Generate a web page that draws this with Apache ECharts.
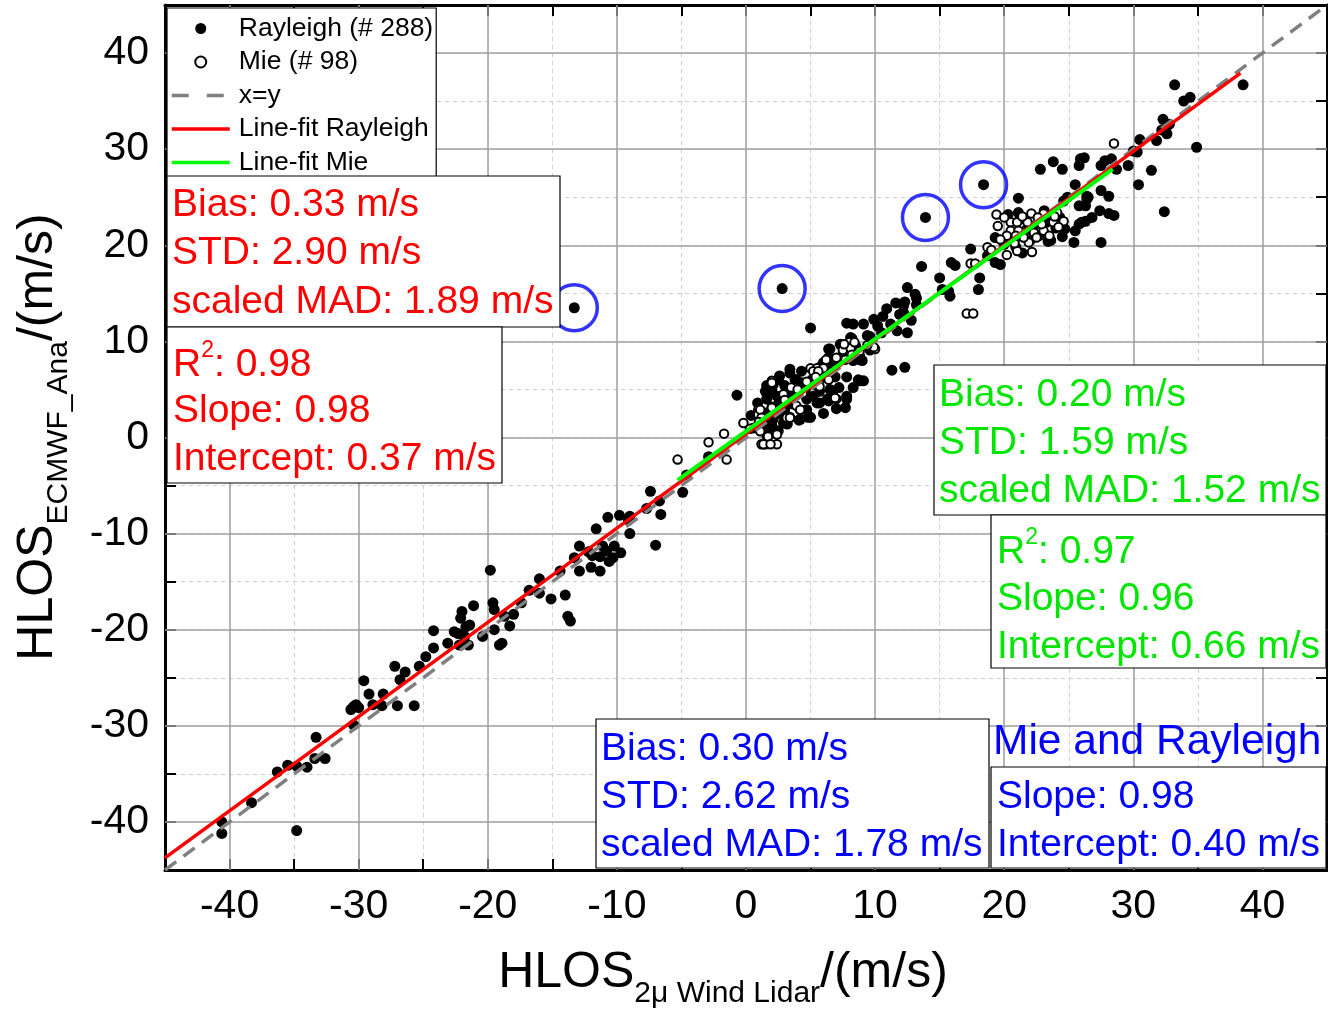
<!DOCTYPE html>
<html>
<head>
<meta charset="utf-8">
<title>HLOS comparison</title>
<script src="https://cdn.jsdelivr.net/npm/echarts@6/dist/echarts.min.js"></script>
<style>
  html, body { margin: 0; padding: 0; background: #ffffff; }
  #chart { width: 1328px; height: 1011px; }
</style>
</head>
<body>
<div id="chart"></div>
<script>
// ---- data ---------------------------------------------------------------
// Rayleigh winds: [2µ lidar HLOS, ECMWF analysis HLOS] in m/s
const rayleighPoints = [
  // strong negative winds
  [-40.6,-40.0],[-40.6,-41.2],[-34.8,-40.9],[-38.3,-38.0],[-36.3,-34.8],[-35.5,-34.1],[-34.8,-34.2],[-34.0,-34.3],[-33.3,-31.2],[-33.4,-33.4],[-32.6,-33.4],
  [-30.4,-28.0],[-30.2,-27.8],[-30.6,-28.3],[-30.4,-29.9],[-30.0,-28.1],[-29.6,-25.3],[-29.2,-26.7],[-28.9,-27.8],[-28.1,-26.7],[-28.2,-27.9],[-27.0,-27.9],[-25.7,-27.9],
  [-27.2,-23.8],[-26.8,-25.2],[-26.4,-24.4],[-25.3,-23.8],[-24.8,-22.8],[-24.2,-21.9],[-24.2,-20.1],[-23.1,-21.4],[-22.6,-20.2],
  [-22.0,-18.1],[-22.1,-18.8],[-21.7,-19.7],[-22.2,-21.6],[-21.8,-20.7],[-21.5,-21.6],[-21.1,-17.5],[-21.4,-19.5],[-20.4,-20.7],[-22.3,-20.4],
  [-19.8,-13.8],[-19.6,-17.2],[-19.5,-17.9],[-19.5,-20.0],[-19.1,-21.6],[-18.9,-21.4],[-18.7,-18.6],[-18.3,-19.6],[-18.0,-18.4],[-17.4,-17.2],
  [-16.8,-15.9],[-16.0,-14.7],[-16.0,-16.2],[-15.1,-16.8],[-14.4,-13.9],[-14.0,-16.4],[-13.8,-18.6],[-13.6,-19.1],
  [-13.3,-12.5],[-12.9,-11.3],[-12.9,-13.9],[-12.0,-13.5],[-11.3,-13.9],[-11.6,-9.5],[-11.3,-12.4],[-11.1,-11.3],[-10.8,-11.8],[-10.7,-8.3],[-10.3,-12.5],[-10.2,-11.3],[-9.8,-8.1],[-9.7,-12.0],[-9.0,-10.0],[-9.0,-8.2],[-9.1,-8.6],[-11.9,-12.3],[-10.6,-12.9],[-12.2,-11.9],
  [-7.4,-5.6],[-6.7,-6.6],[-6.6,-8.0],[-7.0,-11.2],[-7.7,-7.4],[-4.9,-5.7],[-4.6,-3.9],[-2.9,-2.0],[-0.7,4.4],
  // weak winds
  [2.0,5.0],[2.6,4.0],[3.4,4.3],[3.4,7.1],[4.3,6.9],[2.9,1.5],[4.1,1.8],[5.0,2.1],[6.5,9.2],[7.8,11.9],
  [8.3,11.8],[8.2,10.3],[9.1,11.8],[9.9,12.3],[9.6,10.5],[9.0,8.0],[8.8,5.9],[9.1,5.9],[7.8,6.3],[7.8,4.3],
  [7.7,3.1],[7.2,5.2],[6.3,4.0],[5.7,3.6],[11.3,7.0],[12.3,7.3],[10.9,13.4],[11.6,14.0],[12.3,14.1],[13.2,14.5],
  [11.2,11.8],[11.7,11.1],[12.5,10.9],[10.5,10.9],[5.0,11.4],[2.5,6.0],[2.4,3.3],[2.8,2.4],[2.1,1.9],[3.2,1.4],
  [1.6,5.4],[3.8,6.0],[4.3,5.7],[4.6,5.0],[4.7,4.0],[5.5,3.6],[5.2,5.5],[6.0,7.8],[6.4,8.3],[6.8,7.4],
  [6.3,6.7],[8.3,8.0],[8.8,8.5],[8.7,6.0],[9.4,10.6],[4.2,2.9],[4.8,2.1],[3.4,2.1],[1.6,4.0],[2.0,1.2],
  [2.5,0.7],[1.1,1.2],[1.4,1.9],[1.7,2.6],[2.6,6.4],[2.1,5.5],[1.5,4.8],[1.7,4.3],[2.4,4.3],[3.4,6.7],
  [3.9,6.0],[5.1,6.0],[5.7,7.3],[6.1,7.6],[6.4,9.2],[7.3,9.7],[8.1,10.4],[8.5,9.5],[8.8,8.1],[5.7,4.8],
  [6.5,5.0],[5.2,4.3],[6.4,3.8],[7.8,4.0],[7.0,3.0],[4.7,2.9],[4.2,1.9],[2.9,3.3],[2.4,2.6],[1.6,0.8],
  [0.4,2.3],[0.9,3.6],[0.6,1.0],[3.0,5.4],[3.6,3.5],[5.9,6.2],[6.9,6.3],[7.5,8.6],[9.6,9.1],[10.2,11.6],
  [10.6,12.6],[11.9,12.8],[12.8,12.2],[3.0,2.9],[6.0,2.5],[6.7,4.5],[8.3,5.2],
  // strong positive winds
  [33.2,36.7],[38.5,36.7],[33.9,35.0],[34.4,35.4],[32.2,32.0],[32.5,32.1],[32.5,31.9],[32.3,33.1],[32.8,32.6],[32.6,31.6],
  [34.9,30.2],[31.8,30.9],[30.5,31.0],[30.0,29.8],[30.3,29.7],[29.6,28.3],[31.4,27.8],[30.4,26.3],[32.4,23.5],
  [27.5,20.3],[25.4,20.3],[24.5,20.9],[23.4,20.4],[27.4,23.6],[28.1,23.3],[28.5,23.1],[25.8,22.2],[26.3,22.5],[26.8,22.9],
  [25.8,24.1],[26.4,25.1],[26.4,24.8],[24.9,25.0],[24.6,24.6],[25.5,26.3],[27.5,25.7],[28.1,25.1],[26.5,25.0],[26.3,24.1],
  [27.8,28.8],[27.5,28.3],[28.3,29.0],[28.7,27.9],[25.9,29.0],[26.2,29.1],[25.8,28.3],[23.8,28.7],[24.5,27.9],[22.8,27.9],
  [21.1,24.9],[20.3,23.2],[21.1,23.4],[21.2,22.7],[19.3,20.8],[20.0,20.1],[20.9,19.8],[21.4,19.2],[22.7,21.0],[23.3,22.4],[22.8,22.9],[23.1,23.6],
  [17.4,19.6],[18.7,18.9],[19.3,18.2],[19.7,18.0],[18.1,16.6],[18.0,15.4],[15.9,18.2],[16.2,17.9],[15.0,16.6],[13.6,17.8],
  [15.2,15.4],[15.7,15.2],[15.8,14.7],[12.5,15.6],[13.1,14.9],[12.2,13.7],[12.2,13.0],[13.2,13.8],
  [25.5,21.5],[26.0,22.4],[24.7,21.7],[24.0,21.8],[24.3,22.9],[22.3,22.0],[21.7,21.6],[20.8,20.6],[22.0,20.5],[23.6,20.5]
];

// Rayleigh winds flagged as suspicious (circled)
const flaggedPoints = [[-13.3,13.5],[2.8,15.5],[13.9,22.9],[18.4,26.3]];

// Mie winds: [2µ lidar HLOS, ECMWF analysis HLOS] in m/s
const miePoints = [
  [-5.3,-2.3],[-2.9,-0.5],[-1.7,0.4],[-1.5,-2.3],[1.2,-0.7],[1.5,-0.7],[2.4,-0.7],[1.6,0.2],[2.3,0.4],[1.7,0.1],
  [2.4,0.3],[1.35,-0.7],[1.9,-0.7],[1.1,0.65],[0.95,2.9],[0.95,2.4],[2.0,3.2],[2.0,5.9],[3.7,5.2],[3.15,2.05],
  [3.9,3.3],[5.0,7.2],[5.5,7.2],[6.0,7.2],[5.7,5.3],[7.1,8.2],[7.5,9.1],[8.0,9.9],[8.1,9.3],[7.0,4.0],
  [10.0,9.2],[2.0,5.7],[1.1,2.9],[1.2,2.05],[2.0,3.1],[3.5,5.2],[5.2,6.9],[5.6,6.9],[4.2,2.9],[3.4,2.05],
  [7.0,8.3],[7.7,8.1],[8.2,8.6],[9.9,9.4],[6.9,4.1],[7.6,9.7],[8.4,9.9],[4.4,4.6],[6.4,6.0],[9.4,9.6],
  [2.9,4.5],[4.0,5.0],[0.3,0.9],[-0.2,1.5],[3.0,3.9],[6.2,8.1],[8.8,9.0],[1.0,1.6],[5.4,6.3],[4.7,5.8],
  [19.4,23.2],[20.5,22.4],[21.0,22.4],[21.8,22.4],[22.1,23.3],[23.05,23.3],[23.8,22.4],[24.6,22.5],[20.5,21.5],[21.1,21.5],
  [20.2,21.0],[22.3,21.3],[23.05,21.5],[19.7,20.6],[21.0,19.4],[21.9,20.3],[22.15,19.3],[20.2,19.0],[17.4,18.1],[17.75,18.1],
  [17.1,12.9],[17.6,12.9],[28.5,30.6],[20.0,22.9],[22.6,22.9],[24.1,23.4],[22.5,20.8],[21.5,20.8],[20.8,20.2],[23.5,21.0],
  [24.2,21.9],[18.7,19.8],[19.5,22.0],[22.9,22.2],[21.4,23.0],[20.9,21.0],[23.9,23.0],[19.0,19.5]
];

// axis range and labelled ticks (m/s)
const axisRange = [-45, 45];
const majorTicks = [-40, -30, -20, -10, 0, 10, 20, 30, 40];

// linear fits: slope, intercept and the x-span each fit covers
const fitRayleigh = { slope: 0.98, intercept: 0.37, span: [-45, 38.3] };
const fitMie      = { slope: 0.96, intercept: 0.66, span: [-5.3, 28.4] };
const fitAll      = { slope: 0.98, intercept: 0.40 };

// error statistics
const statsRayleigh = ['Bias: 0.33 m/s', 'STD: 2.90 m/s', 'scaled MAD: 1.89 m/s'];
const statsMie      = ['Bias: 0.20 m/s', 'STD: 1.59 m/s', 'scaled MAD: 1.52 m/s'];
const statsAll      = ['Bias: 0.30 m/s', 'STD: 2.62 m/s', 'scaled MAD: 1.78 m/s'];
const r2Rayleigh = '0.98';
const r2Mie = '0.97';

// ---- drawing ------------------------------------------------------------
const FONT = '"Liberation Sans", Arial, Helvetica, sans-serif';
const RED = '#ff0000', GREEN = '#00e600', BLUE = '#0000ff';
const STAT_SIZE = 39;

const fitLine = f => f.span.map(x => [x, f.slope * x + f.intercept]);
const tickLabel = v => (v % 10 === 0 ? String(v) : '');

function valueAxis(position, withLabels) {
  return {
    type: 'value', position,
    min: axisRange[0], max: axisRange[1], interval: 5,
    axisLine: { show: true, onZero: false, lineStyle: { color: '#000', width: 3 } },
    axisTick: { show: true, inside: true, length: 11, lineStyle: { color: '#000', width: 2 } },
    axisLabel: withLabels
      ? { show: true, formatter: tickLabel, fontSize: 41, color: '#000', fontFamily: FONT, margin: 16 }
      : { show: false },
    splitLine: withLabels
      ? { show: true, lineStyle: { color: '#cfcfcf', width: 1, type: [4, 4] } }
      : { show: false },
    axisPointer: { show: false }
  };
}

function box(x, y, w, h) {
  return { type: 'rect', z: 40, silent: true,
    shape: { x, y, width: w, height: h },
    style: { fill: '#fff', stroke: '#000', lineWidth: 1.2 } };
}
function textLine(x, y, content, color, size, rich) {
  const style = { text: content, fill: color, fontSize: size, fontFamily: FONT,
    align: 'left', verticalAlign: 'middle', textAlign: 'left', textVerticalAlign: 'middle' };
  if (rich) style.rich = rich;
  return { type: 'text', z: 41, silent: true, x, y, style };
}
function r2Line(x, y, value, color) {
  const rich = {
    m: { fill: color, fontSize: STAT_SIZE, fontFamily: FONT, lineHeight: 46, verticalAlign: 'bottom' },
    s: { fill: color, fontSize: 23, fontFamily: FONT, lineHeight: 23, verticalAlign: 'top' }
  };
  return textLine(x, y, '{m|R}{s|2}{m|: ' + value + '}', color, STAT_SIZE, rich);
}
function statBlock(left, top, lines, color, lineH) {
  return lines.map((t, i) => textLine(left, top + lineH * i, t, color, STAT_SIZE));
}

// axis titles with subscripts
const titleRich = {
  m: { fill: '#000', fontSize: 50, fontFamily: FONT, lineHeight: 50, verticalAlign: 'top' },
  s: { fill: '#000', fontSize: 30, fontFamily: FONT, lineHeight: 30, verticalAlign: 'top', padding: [31, 0, 0, 0] }
};
const xTitle = { type: 'text', z: 41, silent: true, x: 723, y: 948,
  style: { text: '{m|HLOS}{s|2μ Wind Lidar}{m|/(m/s)}', rich: titleRich, fontFamily: FONT,
    align: 'center', verticalAlign: 'top', textAlign: 'center', textVerticalAlign: 'top' } };
const yTitle = { type: 'text', z: 41, silent: true, x: 13, y: 437, rotation: Math.PI / 2,
  style: { text: '{m|HLOS}{s|ECMWF_Ana}{m|/(m/s)}', rich: titleRich, fontFamily: FONT,
    align: 'center', verticalAlign: 'top', textAlign: 'center', textVerticalAlign: 'top' } };

const graphics = [
  // Rayleigh statistics
  box(167, 176, 393, 151),
  ...statBlock(172, 205, statsRayleigh, RED, 48.5),
  box(167, 327, 335, 156),
  r2Line(173, 362, r2Rayleigh, RED),
  textLine(173, 411, 'Slope: ' + fitRayleigh.slope.toFixed(2), RED, STAT_SIZE),
  textLine(173, 459, 'Intercept: ' + fitRayleigh.intercept.toFixed(2) + ' m/s', RED, STAT_SIZE),
  // Mie statistics
  box(934, 365, 392, 150),
  ...statBlock(939, 395, statsMie, GREEN, 48),
  box(991, 515, 335, 153),
  r2Line(997, 549, r2Mie, GREEN),
  textLine(997, 599, 'Slope: ' + fitMie.slope.toFixed(2), GREEN, STAT_SIZE),
  textLine(997, 647, 'Intercept: ' + fitMie.intercept.toFixed(2) + ' m/s', GREEN, STAT_SIZE),
  // combined statistics
  box(596, 719, 393, 149),
  ...statBlock(601, 749, statsAll, BLUE, 48),
  textLine(993, 742, 'Mie and Rayleigh', BLUE, 42.5),
  box(991, 767, 335, 101),
  textLine(997, 797, 'Slope: ' + fitAll.slope.toFixed(2), BLUE, STAT_SIZE),
  textLine(997, 845, 'Intercept: ' + fitAll.intercept.toFixed(2) + ' m/s', BLUE, STAT_SIZE),
  xTitle, yTitle
];

// line entries in the legend show only the stroke
const hideMarker = { opacity: 0 };

const chart = echarts.init(document.getElementById('chart'), null, { renderer: 'canvas' });
chart.setOption({
  animation: false,
  backgroundColor: '#ffffff',
  grid: { left: 165, right: 1, top: 5, bottom: 141, containLabel: false, outerBoundsMode: 'none' },
  xAxis: [valueAxis('bottom', true), valueAxis('top', false)],
  yAxis: [valueAxis('left', true), valueAxis('right', false)],
  legend: {
    orient: 'vertical', left: 167, top: 8, z: 30,
    backgroundColor: '#fff', borderColor: '#000', borderWidth: 1.2,
    padding: [7, 3, 4, 3], itemGap: 6.5, itemWidth: 58, itemHeight: 11,
    selectedMode: false,
    textStyle: { fontSize: 26.5, lineHeight: 26, color: '#000', fontFamily: FONT, padding: [0, 0, 0, 4] },
    data: [
      { name: 'Rayleigh (# 288)', icon: 'circle' },
      { name: 'Mie (# 98)', icon: 'circle' },
      { name: 'x=y', lineStyle: { type: [17, 18], width: 3.5, color: '#808080' }, itemStyle: hideMarker },
      { name: 'Line-fit Rayleigh', lineStyle: { width: 3.5, color: RED }, itemStyle: hideMarker },
      { name: 'Line-fit Mie', lineStyle: { width: 3.5, color: '#00ff00' }, itemStyle: hideMarker }
    ]
  },
  graphic: { elements: graphics },
  series: [
    { // solid grid at the labelled ticks
      type: 'line', data: [], silent: true, z: 1,
      markLine: {
        silent: true, symbol: 'none', z: 1, animation: false,
        label: { show: false },
        lineStyle: { color: '#a0a0a0', type: 'solid', width: 1.5 },
        emphasis: { disabled: true },
        data: majorTicks.map(v => ({ xAxis: v })).concat(majorTicks.map(v => ({ yAxis: v })))
      }
    },
    {
      name: 'Rayleigh (# 288)', type: 'scatter', z: 3,
      data: rayleighPoints.concat(flaggedPoints),
      symbol: 'circle', symbolSize: 11,
      itemStyle: { color: '#000', opacity: 1 },
      emphasis: { disabled: true }
    },
    {
      name: 'Mie (# 98)', type: 'scatter', z: 4,
      data: miePoints,
      symbol: 'circle', symbolSize: 8.5,
      itemStyle: { color: '#fff', borderColor: '#000', borderWidth: 2, opacity: 1 },
      emphasis: { disabled: true }
    },
    {
      name: 'x=y', type: 'line', z: 5,
      data: [[axisRange[0], axisRange[0]], [axisRange[1], axisRange[1]]],
      symbol: 'none', showSymbol: false,
      itemStyle: { color: '#808080' },
      lineStyle: { color: '#808080', width: 3.5, type: [14, 9] },
      emphasis: { disabled: true }
    },
    {
      name: 'Line-fit Rayleigh', type: 'line', z: 6,
      data: fitLine(fitRayleigh),
      symbol: 'none', showSymbol: false,
      itemStyle: { color: RED },
      lineStyle: { color: RED, width: 3.5 },
      emphasis: { disabled: true }
    },
    {
      name: 'Line-fit Mie', type: 'line', z: 7,
      data: fitLine(fitMie),
      symbol: 'none', showSymbol: false,
      itemStyle: { color: '#00ff00' },
      lineStyle: { color: '#00ff00', width: 4 },
      emphasis: { disabled: true }
    },
    { // rings around flagged Rayleigh winds
      type: 'scatter', z: 8, silent: true,
      data: flaggedPoints,
      symbol: 'circle', symbolSize: 46,
      itemStyle: { color: 'rgba(0,0,0,0)', borderColor: BLUE, borderWidth: 3.5 },
      emphasis: { disabled: true }
    }
  ]
});
</script>
</body>
</html>
